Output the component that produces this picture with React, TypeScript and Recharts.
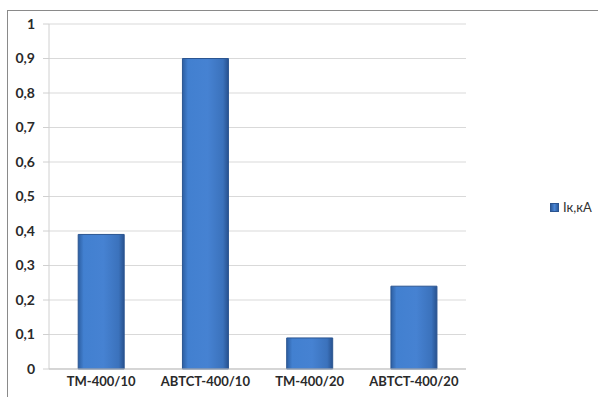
import { Bar, BarChart, CartesianGrid, Legend, XAxis, YAxis } from 'recharts';

const transformers = ['ТМ-400/10', 'АВТСТ-400/10', 'ТМ-400/20', 'АВТСТ-400/20'];
const currentKA = [0.39, 0.9, 0.09, 0.24];
const yTicks = [0, 0.1, 0.2, 0.3, 0.4, 0.5, 0.6, 0.7, 0.8, 0.9, 1];

const data = transformers.map((name, i) => ({ name, ik: currentKA[i] }));

const FONT = 'Lato, "Open Sans", sans-serif';

const fmt = (v: number) => (v === 0 || v === 1 ? String(v) : v.toFixed(1).replace('.', ','));

const LegendBox = () => (
    <div style={{ display: 'flex', alignItems: 'center', fontFamily: FONT, fontSize: 13, color: '#333' }}>
        <span
            style={{
                display: 'inline-block',
                width: 7,
                height: 7,
                marginRight: 4,
                background: 'linear-gradient(90deg, #2d5c9c, #4a86d6 50%, #2d5c9c)',
                border: '1px solid #2b5591',
            }}
        />
        Ік,кА
    </div>
);

const App = () => {
    return (
        <div style={{ position: 'absolute', left: 0, top: 0, width: 599, height: 397, background: '#fff' }}>
            {/* frame of the chart area */}
            <div
                style={{
                    position: 'absolute',
                    left: 7,
                    top: 10,
                    width: 590,
                    height: 400,
                    borderLeft: '1px solid #8a8a8a',
                    borderTop: '1px solid #8a8a8a',
                }}
            />
            <BarChart
                width={599}
                height={397}
                data={data}
                margin={{ top: 24, right: 73, left: 0, bottom: 0 }}
                barCategoryGap="28%"
                style={{ position: 'absolute', left: 0, top: 0 }}
            >
                <defs>
                    <linearGradient id="barFill" x1="0" y1="0" x2="1" y2="0">
                        <stop offset="0%" stopColor="#2d5fa2" />
                        <stop offset="12%" stopColor="#4280d0" />
                        <stop offset="55%" stopColor="#4682d2" />
                        <stop offset="88%" stopColor="#3b72bc" />
                        <stop offset="100%" stopColor="#28528f" />
                    </linearGradient>
                </defs>
                <CartesianGrid vertical={false} stroke="#d9d9d9" />
                <XAxis
                    dataKey="name"
                    height={28}
                    axisLine={{ stroke: '#bfbfbf' }}
                    tickLine={false}
                    tick={{ fill: '#2a2a2a', fontSize: 13, fontWeight: 700, fontFamily: FONT }}
                    interval={0}
                />
                <YAxis
                    width={49}
                    domain={[0, 1]}
                    ticks={yTicks}
                    tickFormatter={fmt}
                    axisLine={{ stroke: '#d0d0d0' }}
                    tickLine={{ stroke: '#d0d0d0' }}
                    tickSize={6}
                    tickMargin={8}
                    tick={{ fill: '#2a2a2a', fontSize: 14, fontWeight: 700, fontFamily: FONT }}
                />
                <Legend
                    layout="vertical"
                    align="right"
                    verticalAlign="top"
                    content={<LegendBox />}
                    wrapperStyle={{ left: 550, top: 199, width: 60 }}
                />
                <Bar
                    dataKey="ik"
                    name="Ік,кА"
                    fill="url(#barFill)"
                    stroke="#2b5591"
                    strokeWidth={1}
                    isAnimationActive={false}
                />
            </BarChart>
        </div>
    );
};

export default App;
